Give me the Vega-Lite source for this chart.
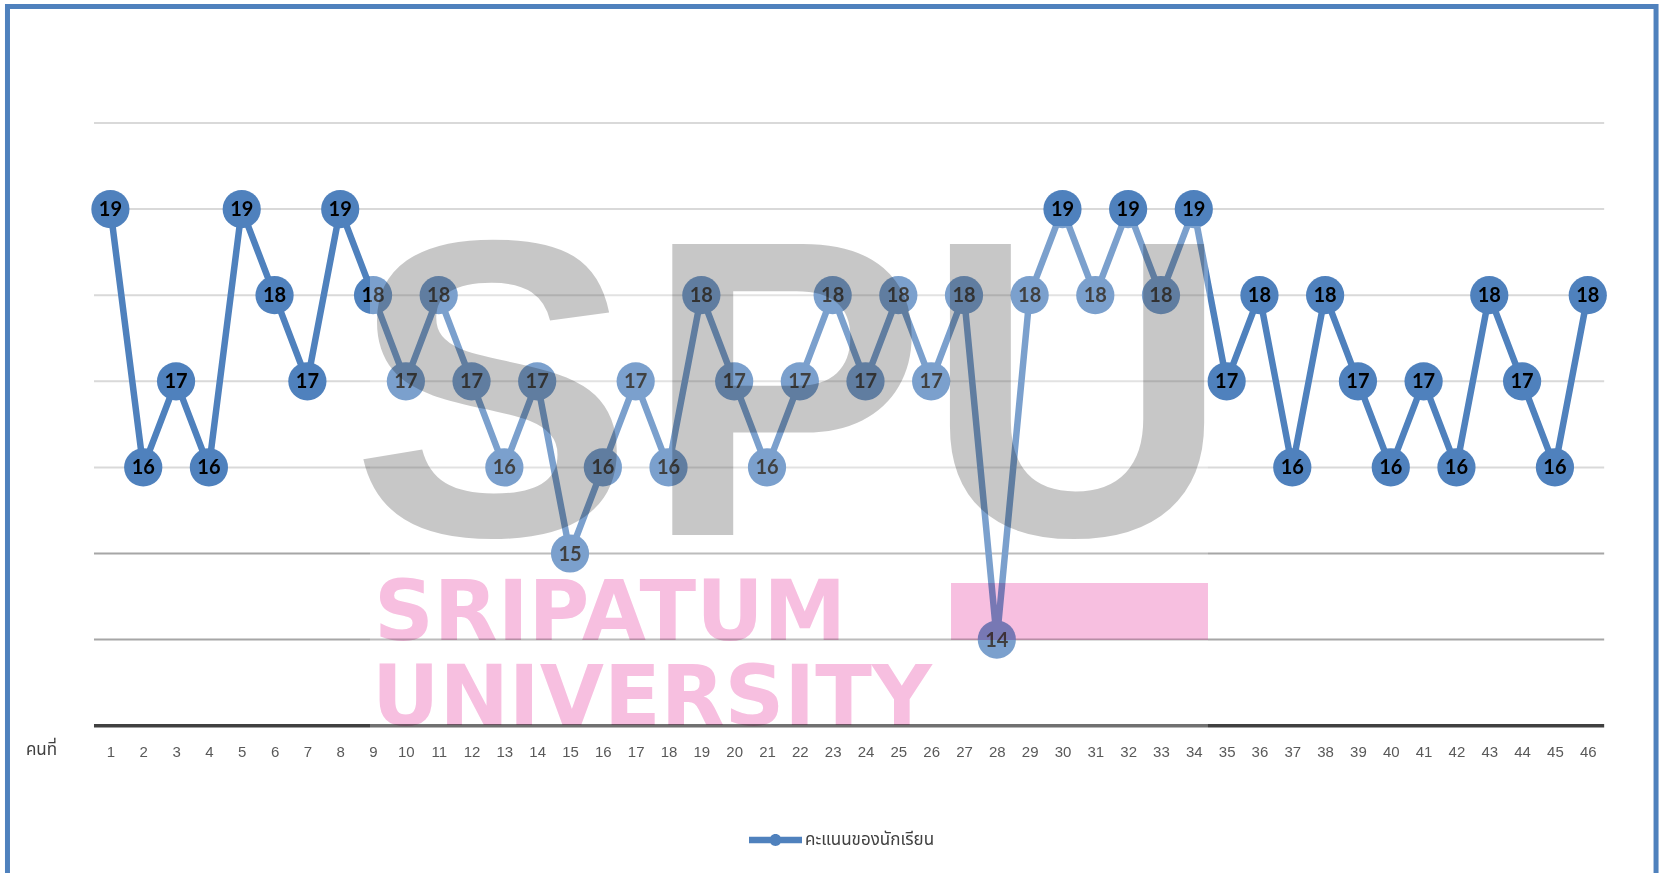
{
  "$schema": "https://vega.github.io/schema/vega-lite/v6.json",
  "width": 1659,
  "height": 873,
  "padding": 0,
  "autosize": {"type": "none"},
  "background": "white",
  "config": {"view": {"stroke": null}},
  "data": {"values": [
      {"kind": "s", "n": 1, "score": 19}, {"kind": "s", "n": 2, "score": 16}, {"kind": "s", "n": 3, "score": 17}, {"kind": "s", "n": 4, "score": 16},
      {"kind": "s", "n": 5, "score": 19}, {"kind": "s", "n": 6, "score": 18}, {"kind": "s", "n": 7, "score": 17}, {"kind": "s", "n": 8, "score": 19},
      {"kind": "s", "n": 9, "score": 18}, {"kind": "s", "n": 10, "score": 17}, {"kind": "s", "n": 11, "score": 18}, {"kind": "s", "n": 12, "score": 17},
      {"kind": "s", "n": 13, "score": 16}, {"kind": "s", "n": 14, "score": 17}, {"kind": "s", "n": 15, "score": 15}, {"kind": "s", "n": 16, "score": 16},
      {"kind": "s", "n": 17, "score": 17}, {"kind": "s", "n": 18, "score": 16}, {"kind": "s", "n": 19, "score": 18}, {"kind": "s", "n": 20, "score": 17},
      {"kind": "s", "n": 21, "score": 16}, {"kind": "s", "n": 22, "score": 17}, {"kind": "s", "n": 23, "score": 18}, {"kind": "s", "n": 24, "score": 17},
      {"kind": "s", "n": 25, "score": 18}, {"kind": "s", "n": 26, "score": 17}, {"kind": "s", "n": 27, "score": 18}, {"kind": "s", "n": 28, "score": 14},
      {"kind": "s", "n": 29, "score": 18}, {"kind": "s", "n": 30, "score": 19}, {"kind": "s", "n": 31, "score": 18}, {"kind": "s", "n": 32, "score": 19},
      {"kind": "s", "n": 33, "score": 18}, {"kind": "s", "n": 34, "score": 19}, {"kind": "s", "n": 35, "score": 17}, {"kind": "s", "n": 36, "score": 18},
      {"kind": "s", "n": 37, "score": 16}, {"kind": "s", "n": 38, "score": 18}, {"kind": "s", "n": 39, "score": 17}, {"kind": "s", "n": 40, "score": 16},
      {"kind": "s", "n": 41, "score": 17}, {"kind": "s", "n": 42, "score": 16}, {"kind": "s", "n": 43, "score": 18}, {"kind": "s", "n": 44, "score": 17},
      {"kind": "s", "n": 45, "score": 16}, {"kind": "s", "n": 46, "score": 18},
      {"kind": "g", "g": 14}, {"kind": "g", "g": 15}, {"kind": "g", "g": 16}, {"kind": "g", "g": 17},
      {"kind": "g", "g": 18}, {"kind": "g", "g": 19}, {"kind": "g", "g": 20},
      {"kind": "w"}
  ]},
  "resolve": {"axis": {"x": "independent", "y": "independent"}},
  "layer": [
    {
      "transform": [{"filter": "datum.kind == 'g'"}],
      "mark": {"type": "rule", "strokeWidth": 2},
      "encoding": {
        "y": {"field": "g", "type": "quantitative", "scale": {"domain": [11.2892, 21.4286], "nice": false, "zero": false}, "axis": null},
        "x": {"datum": 0.5, "scale": {"domain": [-2.3628, 48.17], "nice": false, "zero": false}, "axis": null},
        "x2": {"datum": 46.5},
        "color": {
          "condition": {"test": "datum.g <= 15", "value": "#A6A6A6"},
          "value": "#D9D9D9"
        }
      }
    },
    {
      "transform": [{"filter": "datum.kind == 'w'"}],
      "mark": {"type": "rule", "stroke": "#404040", "strokeWidth": 3.5},
      "encoding": {
        "y": {"datum": 13, "axis": null},
        "x": {"datum": 0.5, "axis": null},
        "x2": {"datum": 46.5}
      }
    },
    {
      "transform": [{"filter": "datum.kind == 's'"}],
      "mark": {"type": "line", "stroke": "#4F81BD", "strokeWidth": 6.5, "strokeJoin": "round", "strokeCap": "round"},
      "encoding": {
        "x": {"field": "n", "type": "quantitative", "axis": null},
        "y": {"field": "score", "type": "quantitative", "axis": null}
      }
    },
    {
      "transform": [{"filter": "datum.kind == 's'"}],
      "mark": {"type": "circle", "size": 1460, "opacity": 1},
      "encoding": {
        "x": {"field": "n", "type": "quantitative", "axis": null},
        "y": {"field": "score", "type": "quantitative", "axis": null},
        "color": {
          "datum": "คะแนนของนักเรียน",
          "scale": {"range": ["#4F81BD"]},
          "legend": {
            "orient": "none",
            "legendX": 749,
            "legendY": 813.5,
            "title": null,
            "padding": 0,
            "symbolType": "M-1,-0.12L1,-0.12L1,0.12L-1,0.12Z M0.226,0A0.226,0.226,0,1,1,-0.226,0A0.226,0.226,0,1,1,0.226,0Z",
            "symbolSize": 2809,
            "symbolStrokeWidth": 0,
            "symbolOpacity": 1,
            "labelFont": "Noto Sans Thai, Noto Sans, sans-serif",
            "labelFontSize": 17,
            "labelColor": "#404040",
            "labelOffset": 3
          }
        }
      }
    },
    {
      "transform": [{"filter": "datum.kind == 's'"}],
      "mark": {"type": "text", "font": "Lato", "fontWeight": "bold", "fontSize": 20, "color": "#000000", "baseline": "middle", "align": "center", "dy": 1},
      "encoding": {
        "y": {"field": "score", "type": "quantitative", "axis": null},
        "x": {
          "field": "n",
          "type": "quantitative",
          "axis": {
            "values": [1,2,3,4,5,6,7,8,9,10,11,12,13,14,15,16,17,18,19,20,21,22,23,24,25,26,27,28,29,30,31,32,33,34,35,36,37,38,39,40,41,42,43,44,45,46],
            "domain": false,
            "ticks": false,
            "tickSize": 0,
            "grid": false,
            "offset": -133,
            "labelPadding": 4,
            "labelBaseline": "top",
            "labelFont": "Liberation Sans",
            "labelFontSize": 15,
            "labelColor": "#595959",
            "labelFlush": false,
            "labelOverlap": false,
            "title": "คนที่",
            "titleX": 41,
            "titleY": 9,
            "titleAlign": "center",
            "titleBaseline": "middle",
            "titleAngle": 0,
            "titleFont": "Noto Sans Thai, Noto Sans, sans-serif",
            "titleFontSize": 17,
            "titleFontWeight": "normal",
            "titleColor": "#404040"
          }
        },
        "text": {"field": "score", "type": "quantitative"}
      }
    },
    {
      "transform": [{"filter": "datum.kind == 'w'"}],
      "mark": {"type": "rect", "fill": "#FFFFFF", "opacity": 0.25},
      "encoding": {
        "x": {"datum": 8.907, "axis": null},
        "x2": {"datum": 34.432},
        "y": {"datum": 18.804, "axis": null},
        "y2": {"datum": 12.892}
      }
    },
    {
      "transform": [{"filter": "datum.kind == 'w'"}],
      "mark": {"type": "text", "text": "S", "font": "Liberation Sans", "fontWeight": "bold", "fontSize": 423, "fill": "#000000", "opacity": 0.216, "align": "center", "baseline": "alphabetic"},
      "encoding": {
        "x": {"datum": 12.63, "axis": null},
        "y": {"datum": 15.215, "axis": null}
      }
    },
    {
      "transform": [{"filter": "datum.kind == 'w'"}],
      "mark": {"type": "text", "text": "P", "font": "Liberation Sans", "fontWeight": "bold", "fontSize": 423, "fill": "#000000", "opacity": 0.216, "align": "center", "baseline": "alphabetic"},
      "encoding": {
        "x": {"datum": 21.55, "axis": null},
        "y": {"datum": 15.215, "axis": null}
      }
    },
    {
      "transform": [{"filter": "datum.kind == 'w'"}],
      "mark": {"type": "text", "text": "U", "font": "Liberation Sans", "fontWeight": "bold", "fontSize": 423, "fill": "#000000", "opacity": 0.216, "align": "center", "baseline": "alphabetic"},
      "encoding": {
        "x": {"datum": 30.45, "axis": null},
        "y": {"datum": 15.215, "axis": null}
      }
    },
    {
      "transform": [{"filter": "datum.kind == 'w'"}],
      "mark": {"type": "rect", "fill": "#F7BFE0", "blend": "multiply"},
      "encoding": {
        "x": {"datum": 26.605, "axis": null},
        "x2": {"datum": 34.432},
        "y": {"datum": 14.657, "axis": null},
        "y2": {"datum": 13.995}
      }
    },
    {
      "transform": [{"filter": "datum.kind == 'w'"}],
      "mark": {"type": "text", "text": "SRIPATUM", "font": "DejaVu Sans", "fontWeight": "bold", "fontSize": 83, "fill": "#F7BFE0", "blend": "multiply", "align": "left", "baseline": "alphabetic"},
      "encoding": {
        "x": {"datum": 9.029, "axis": null},
        "y": {"datum": 13.995, "axis": null}
      }
    },
    {
      "transform": [{"filter": "datum.kind == 'w'"}],
      "mark": {"type": "text", "text": "UNIVERSITY", "font": "DejaVu Sans", "fontWeight": "bold", "fontSize": 83, "fill": "#F7BFE0", "blend": "multiply", "align": "left", "baseline": "alphabetic"},
      "encoding": {
        "x": {"datum": 8.968, "axis": null},
        "y": {"datum": 13.008, "axis": null}
      }
    },
    {
      "transform": [{"filter": "datum.kind == 'w'"}],
      "mark": {"type": "rect", "fill": null, "fillOpacity": 0, "stroke": "#4F81BD", "strokeWidth": 5},
      "encoding": {
        "x": {"datum": -2.135, "axis": null},
        "x2": {"datum": 48.08},
        "y": {"datum": 21.353, "axis": null},
        "y2": {"datum": 10.9}
      }
    }
  ]
}
